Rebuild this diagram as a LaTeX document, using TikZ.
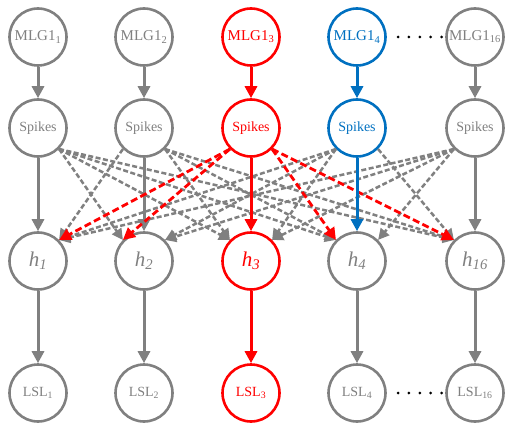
\documentclass[tikz,border=0pt]{standalone}
\usepackage{fontspec}
\setmainfont{Liberation Serif}
\usetikzlibrary{arrows.meta}
\definecolor{gr}{RGB}{128,128,128}
\definecolor{rd}{RGB}{255,0,0}
\definecolor{bl}{RGB}{0,112,192}
\begin{document}
\begin{tikzpicture}[x=1pt,y=-1pt,
  nd/.style={circle,draw=#1,text=#1,line width=2.6pt,minimum size=57pt,inner sep=0pt},
  mfont/.style={font=\fontsize{15}{18}\selectfont},
  sfont/.style={font=\fontsize{14}{17}\selectfont},
  hfont/.style={font=\fontsize{21}{25}\selectfont\itshape},
  lfont/.style={font=\fontsize{14}{17}\selectfont},
  sarrow/.style={draw=#1,line width=3pt,-{Triangle[width=12pt,length=12pt,fill=#1]}},
  gdash/.style={draw=gr,line width=2.5pt,dash pattern=on 5pt off 2.5pt,-{Triangle[width=11pt,length=11pt,fill=gr]}},
  rdash/.style={draw=rd,line width=2.8pt,dash pattern=on 7pt off 3.5pt,-{Triangle[width=12pt,length=12pt,fill=rd]}},
  dotline/.style={draw=black,line width=3pt,line cap=round,dash pattern=on 0pt off 10.9pt}
]
\useasboundingbox (0,0) rectangle (510,430);
% columns
\def\xa{38}\def\xb{144}\def\xc{251}\def\xd{357}\def\xe{475}
% MLG row
\node[nd=gr,mfont] (m1) at (\xa,37) {MLG1\textsubscript{1}};
\node[nd=gr,mfont] (m2) at (\xb,37) {MLG1\textsubscript{2}};
\node[nd=rd,mfont] (m3) at (\xc,37) {MLG1\textsubscript{3}};
\node[nd=bl,mfont] (m4) at (\xd,37) {MLG1\textsubscript{4}};
\node[nd=gr,mfont] (m5) at (\xe,37) {MLG1\textsubscript{16}};
% Spikes row
\node[nd=gr,sfont] (s1) at (\xa,128) {Spikes};
\node[nd=gr,sfont] (s2) at (\xb,128) {Spikes};
\node[nd=rd,sfont] (s3) at (\xc,128) {Spikes};
\node[nd=bl,sfont] (s4) at (\xd,128) {Spikes};
\node[nd=gr,sfont] (s5) at (\xe,128) {Spikes};
% h row
\node[nd=gr,hfont] (h1) at (\xa,261) {h\textsubscript{1}};
\node[nd=gr,hfont] (h2) at (\xb,261) {h\textsubscript{2}};
\node[nd=rd,hfont] (h3) at (\xc,261) {h\textsubscript{3}};
\node[nd=gr,hfont] (h4) at (\xd,261) {h\textsubscript{4}};
\node[nd=gr,hfont] (h5) at (\xe,261) {h\textsubscript{16}};
% LSL row
\node[nd=gr,lfont] (l1) at (\xa,393) {LSL\textsubscript{1}};
\node[nd=gr,lfont] (l2) at (\xb,393) {LSL\textsubscript{2}};
\node[nd=rd,lfont] (l3) at (\xc,393) {LSL\textsubscript{3}};
\node[nd=gr,lfont] (l4) at (\xd,393) {LSL\textsubscript{4}};
\node[nd=gr,lfont] (l5) at (\xe,393) {LSL\textsubscript{16}};
% gray dashed cross connections
\foreach \i in {1,2,4,5}{
  \foreach \j in {1,...,5}{
    \ifnum\i<\j \draw[gdash] (s\i.south east) -- (h\j.north west);\fi
    \ifnum\i>\j \draw[gdash] (s\i.south west) -- (h\j.north east);\fi
  }
}
% gray solid arrows
\foreach \k in {1,2,5}{
  \draw[sarrow=gr] (m\k) -- (s\k);
  \draw[sarrow=gr] (s\k) -- (h\k);
}
\foreach \k in {1,2,4,5}{
  \draw[sarrow=gr] (h\k) -- (l\k);
}
% red dashed
\draw[rdash] (s3.south west) -- (h1.north east);
\draw[rdash] (s3.south west) -- (h2.north west);
\draw[rdash] (s3.south east) -- (h4.north west);
\draw[rdash] (s3.south east) -- (h5.north west);
% coloured solid arrows
\draw[sarrow=rd] (m3) -- (s3);
\draw[sarrow=rd] (s3) -- (h3);
\draw[sarrow=rd] (h3) -- (l3);
\draw[sarrow=bl] (m4) -- (s4);
\draw[sarrow=bl] (s4) -- (h4);
% dots
\draw[dotline,shorten <=11.2pt,shorten >=2.8pt] (m4.east) -- (m5.west);
\draw[dotline,shorten <=11.2pt,shorten >=2.8pt] (l4.east) -- (l5.west);
\end{tikzpicture}
\end{document}
